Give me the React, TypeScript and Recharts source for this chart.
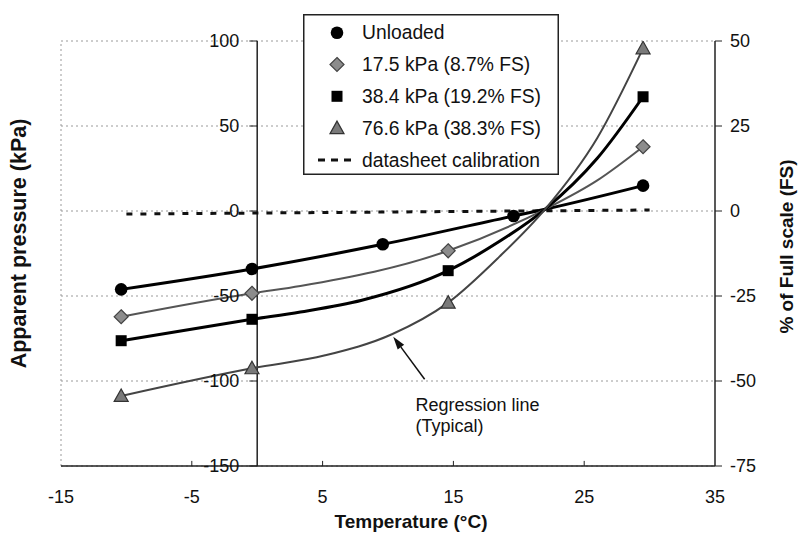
import React from 'react';
import {
  ComposedChart, Line, Scatter, XAxis, YAxis, CartesianGrid,
  ReferenceLine, ReferenceDot, Legend
} from 'recharts';

const FONT = '"Liberation Sans", Arial, Helvetica, sans-serif';

// axes
const xTicks = [-15, -5, 5, 15, 25, 35];
const kpaTicks = [-150, -100, -50, 0, 50, 100];
const fsTicks = [-75, -50, -25, 0, 25, 50];

const legendLabels = [
  'Unloaded',
  '17.5 kPa (8.7% FS)',
  '38.4 kPa (19.2% FS)',
  '76.6 kPa (38.3% FS)',
  'datasheet calibration',
];
const markerKinds = ['circle', 'diamond', 'square', 'triangle'];

// measured points (temperature °C, apparent pressure kPa)
const unloadedT = [-10.4, -0.4, 9.6, 19.6, 29.5];
const unloadedP = [-46.1, -34.1, -19.6, -2.9, 14.9];
const loadedT = [-10.4, -0.4, 14.6, 29.5];
const p175 = [-62.2, -48.4, -23.4, 37.8];
const p384 = [-76.3, -63.7, -35.1, 67.2];
const p766 = [-108.8, -92.5, -53.9, 95.7];

// regression curves
const fitUnloadedT = [-10.4, -0.4, 9.6, 19.6, 22, 29.5];
const fitUnloadedP = [-46.1, -34.1, -19.6, -2.9, 1, 14.9];
const fit175T = [-10.4, -0.4, 3.3, 14.6, 22, 26, 29.5];
const fit175P = [-62.2, -48.4, -44.1, -23.4, 1, 18, 37.8];
const fit384T = [-10.4, -0.4, 3.3, 8, 14.6, 18.5, 22, 26, 29.5];
const fit384P = [-76.3, -63.7, -59.4, -52.5, -35.1, -18, 1, 31, 67.2];
const fit766T = [-10.4, -0.4, 5.2, 10.3, 14.6, 18.5, 22, 26, 29.5];
const fit766P = [-108.8, -92.5, -84.9, -72.5, -53.9, -27, 1, 43, 95.7];

// datasheet calibration
const calT = [-10, 30];
const calP = [-1.8, 0.6];

const pts = (xs: number[], ys: number[]) => xs.map((x, i) => ({ x, y: ys[i] }));

const Mark = ({ kind, cx, cy }: { kind: string; cx: number; cy: number }) => {
  if (kind === 'circle') return <circle cx={cx} cy={cy} r={6.3} fill="#000" />;
  if (kind === 'diamond')
    return (
      <path
        d={`M${cx},${cy - 7}L${cx + 7},${cy}L${cx},${cy + 7}L${cx - 7},${cy}Z`}
        fill="#8c8c8c" stroke="#444" strokeWidth={1.2}
      />
    );
  if (kind === 'square') return <rect x={cx - 5.5} y={cy - 5.5} width={11} height={11} fill="#000" />;
  return (
    <path
      d={`M${cx},${cy - 7}L${cx + 7},${cy + 5.5}L${cx - 7},${cy + 5.5}Z`}
      fill="#7a7a7a" stroke="#333" strokeWidth={1.2}
    />
  );
};

const LegendBox = () => (
  <svg width={256} height={161} style={{ display: 'block' }}>
    <rect x={0.75} y={0.75} width={254.5} height={159.5} fill="#fff" stroke="#222" strokeWidth={1.5} />
    {legendLabels.map((name, i) => {
      const y = 18.7 + i * 31.8;
      return (
        <g key={name}>
          {i < 4 ? (
            <Mark kind={markerKinds[i]} cx={34} cy={y} />
          ) : (
            <line x1={15} x2={51} y1={y} y2={y} stroke="#111" strokeWidth={3} strokeDasharray="7 6" />
          )}
          <text x={59} y={y} dy="0.35em" fontSize={19.3} fontFamily={FONT} fill="#111">{name}</text>
        </g>
      );
    })}
  </svg>
);

const AxisTitle = ({ viewBox, text, dx = 0, dy = 0, rot = 0, size = 19 }: any) => {
  const cx = viewBox.x + viewBox.width / 2 + dx;
  const cy = viewBox.y + viewBox.height / 2 + dy;
  return (
    <text
      x={cx} y={cy} transform={`rotate(${rot} ${cx} ${cy})`}
      textAnchor="middle" dominantBaseline="central"
      fontSize={size} fontWeight="bold" fontFamily={FONT} fill="#111"
    >
      {text}
    </text>
  );
};

const Arrow = (p: any) => {
  const { x1, y1, x2, y2 } = p;
  const a = Math.atan2(y2 - y1, x2 - x1);
  const len = 13;
  const w = 4;
  const bx = x2 - len * Math.cos(a);
  const by = y2 - len * Math.sin(a);
  const px = -Math.sin(a) * w;
  const py = Math.cos(a) * w;
  return (
    <g>
      <line x1={x1} y1={y1} x2={bx} y2={by} stroke="#111" strokeWidth={1.5} />
      <path d={`M${x2},${y2}L${bx + px},${by + py}L${bx - px},${by - py}Z`} fill="#111" />
    </g>
  );
};

const NoteText = ({ viewBox }: any) => (
  <text x={viewBox.x} y={viewBox.y} fontSize={18} fontFamily={FONT} fill="#111">
    <tspan x={viewBox.x}>Regression line</tspan>
    <tspan x={viewBox.x} dy={21}>(Typical)</tspan>
  </text>
);

export default function App() {
  const tickFont = { fontSize: 18, fontFamily: FONT, fill: '#111' };
  return (
    <div style={{ position: 'absolute', left: 0, top: 0, background: '#fff' }}>
      <ComposedChart width={798} height={533} margin={{ top: 41, right: 0, bottom: 0, left: 0 }}>
        <CartesianGrid yAxisId="fs" vertical={false} stroke="#9a9a9a" strokeDasharray="2 3" />
        <XAxis
          type="number" dataKey="x" domain={[-15, 35]} ticks={xTicks} interval={0}
          allowDataOverflow height={67} tickSize={0} tickMargin={24} tickLine={false}
          axisLine={{ stroke: '#222', strokeWidth: 1.5 }} tick={tickFont}
          label={<AxisTitle text="Temperature (°C)" dx={23} dy={22} />}
        />
        <YAxis
          yAxisId="kpa" dataKey="y" type="number" domain={[-150, 100]} ticks={kpaTicks}
          allowDataOverflow width={61} tick={false} tickLine={false} axisLine={false}
          label={<AxisTitle text="Apparent pressure (kPa)" dx={-12} dy={-10} rot={-90} size={21.5} />}
        />
        <YAxis
          yAxisId="fs" orientation="right" type="number" domain={[-75, 50]} ticks={fsTicks}
          interval={0} allowDataOverflow width={83} tickSize={7} tickMargin={8}
          axisLine={{ stroke: '#222', strokeWidth: 1.5 }} tickLine={{ stroke: '#222' }}
          tick={{ ...tickFont, textAnchor: 'start' }}
          label={<AxisTitle text="% of Full scale (FS)" dx={30} dy={-7} rot={-90} />}
        />

        {/* plot-area left border */}
        <ReferenceLine yAxisId="kpa" x={-15} stroke="#9a9a9a" strokeDasharray="2 3" ifOverflow="visible" />

        {/* y axis crossing at 0 °C, with its ticks and labels */}
        <ReferenceLine yAxisId="kpa" x={0} stroke="#222" strokeWidth={1.5} ifOverflow="visible" />
        {kpaTicks.map((v) => (
          <ReferenceLine
            key={`yt${v}`} yAxisId="kpa" ifOverflow="visible"
            segment={[{ x: -0.6, y: v }, { x: 0, y: v }]} stroke="#222"
            label={{ value: String(v), position: 'left', offset: 10, ...tickFont }}
          />
        ))}
        {xTicks.slice(1, -1).map((v) => (
          <ReferenceLine
            key={`xt${v}`} yAxisId="kpa" ifOverflow="visible"
            segment={[{ x: v, y: -150 }, { x: v, y: -147 }]} stroke="#222"
          />
        ))}

        <Line
          yAxisId="kpa" data={pts(calT, calP)} dataKey="y" type="linear" stroke="#111"
          strokeWidth={3} strokeDasharray="6 8" dot={false} isAnimationActive={false}
        />
        <Line yAxisId="kpa" data={pts(fitUnloadedT, fitUnloadedP)} dataKey="y" type="monotone"
          stroke="#000" strokeWidth={3} dot={false} isAnimationActive={false} />
        <Line yAxisId="kpa" data={pts(fit175T, fit175P)} dataKey="y" type="monotone"
          stroke="#555" strokeWidth={2} dot={false} isAnimationActive={false} />
        <Line yAxisId="kpa" data={pts(fit384T, fit384P)} dataKey="y" type="monotone"
          stroke="#000" strokeWidth={3} dot={false} isAnimationActive={false} />
        <Line yAxisId="kpa" data={pts(fit766T, fit766P)} dataKey="y" type="monotone"
          stroke="#444" strokeWidth={2} dot={false} isAnimationActive={false} />

        <Scatter yAxisId="kpa" data={pts(unloadedT, unloadedP)} dataKey="y" isAnimationActive={false}
          shape={(p: any) => <Mark kind="circle" cx={p.cx} cy={p.cy} />} />
        <Scatter yAxisId="kpa" data={pts(loadedT, p175)} dataKey="y" isAnimationActive={false}
          shape={(p: any) => <Mark kind="diamond" cx={p.cx} cy={p.cy} />} />
        <Scatter yAxisId="kpa" data={pts(loadedT, p384)} dataKey="y" isAnimationActive={false}
          shape={(p: any) => <Mark kind="square" cx={p.cx} cy={p.cy} />} />
        <Scatter yAxisId="kpa" data={pts(loadedT, p766)} dataKey="y" isAnimationActive={false}
          shape={(p: any) => <Mark kind="triangle" cx={p.cx} cy={p.cy} />} />

        {/* annotation */}
        <ReferenceLine
          yAxisId="kpa" ifOverflow="visible"
          segment={[{ x: 12.8, y: -99 }, { x: 10.4, y: -73.9 }]}
          shape={(p: any) => <Arrow {...p} />}
        />
        <ReferenceDot
          yAxisId="kpa" x={12.1} y={-117.6} r={0} fill="none" stroke="none"
          ifOverflow="visible" label={<NoteText />}
        />

        <Legend
          layout="vertical" align="center" verticalAlign="middle"
          wrapperStyle={{ position: 'absolute', left: 303, top: 14, width: 256, height: 161 }}
          content={() => <LegendBox />}
        />
      </ComposedChart>
    </div>
  );
}
